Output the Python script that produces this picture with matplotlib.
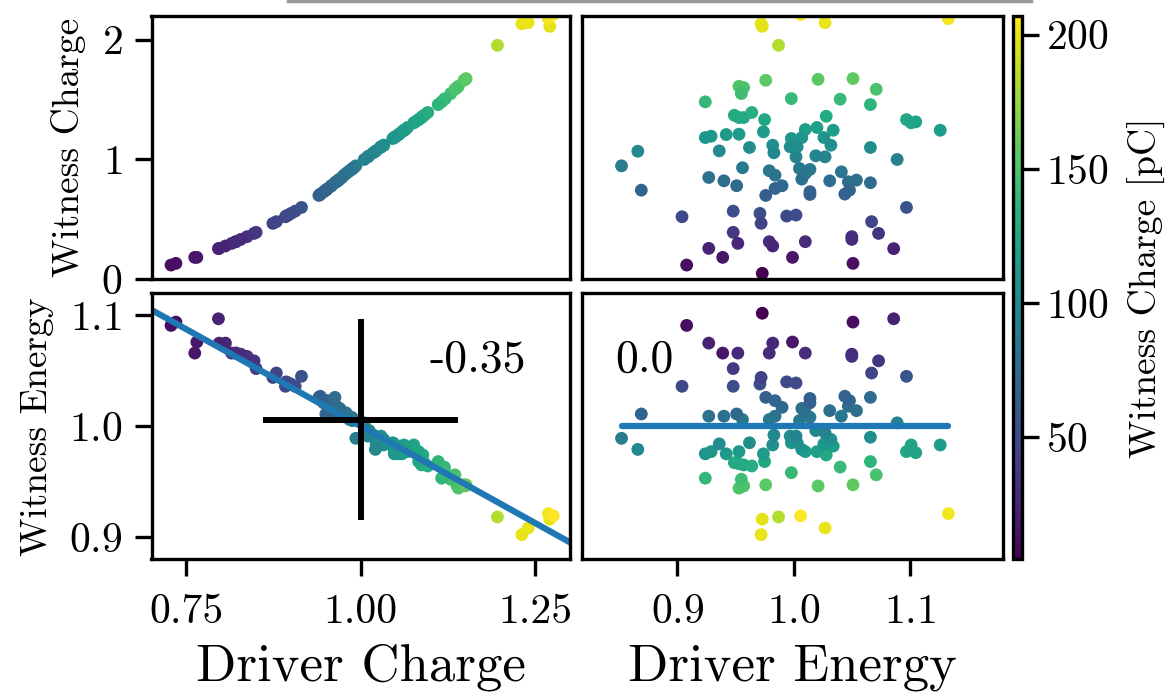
import matplotlib
matplotlib.use("Agg")
import matplotlib.pyplot as plt
from matplotlib.lines import Line2D
import numpy as np

# per-shot values (normalised)
driver_charge = [1.231, 1.271, 1.240, 1.269, 1.276, 1.196, 1.148, 1.140, 1.138, 1.129,
                 1.116, 1.121, 1.150, 1.151, 1.135, 1.120, 1.111, 1.091, 1.087, 1.087,
                 1.096, 1.083, 1.089, 1.083, 1.076, 1.078, 1.059, 1.048, 1.051, 1.054,
                 1.055, 1.064, 1.067, 1.062, 1.062, 1.046, 1.048, 1.048, 1.033, 1.033,
                 1.018, 1.022, 1.028, 1.029, 1.029, 1.010, 1.012, 1.010, 1.028, 1.021,
                 0.993, 1.005, 0.990, 0.984, 0.976, 0.988, 0.987, 0.979, 0.970, 0.982,
                 0.967, 0.973, 0.967, 0.958, 0.958, 0.953, 0.940, 0.965, 0.968, 0.950,
                 0.942, 0.963, 0.947, 0.942, 0.950, 0.915, 0.892, 0.906, 0.900, 0.874,
                 0.893, 0.896, 0.879, 0.847, 0.850, 0.815, 0.821, 0.806, 0.821, 0.837,
                 0.828, 0.796, 0.797, 0.762, 0.728, 0.690, 0.765, 0.735]
driver_energy = [0.972, 0.973, 1.027, 1.133, 1.006, 0.987, 0.976, 0.953, 0.957, 0.955,
                 0.924, 0.998, 1.021, 1.051, 1.071, 1.040, 1.066, 0.949, 0.953, 0.957,
                 0.964, 0.975, 1.028, 1.097, 1.101, 1.105, 0.974, 0.924, 0.929, 0.942,
                 0.953, 1.010, 1.020, 1.034, 1.126, 0.998, 1.007, 1.026, 1.032, 0.982,
                 0.983, 0.936, 0.962, 0.997, 1.003, 1.002, 1.019, 1.027, 1.066, 0.866,
                 0.852, 1.089, 0.956, 0.979, 0.984, 1.005, 1.014, 1.010, 1.007, 1.041,
                 1.031, 0.927, 0.940, 0.951, 0.990, 0.984, 0.976, 1.047, 1.054, 1.048,
                 1.044, 1.066, 1.014, 1.014, 0.869, 1.097, 0.904, 0.948, 0.971, 0.972,
                 0.994, 1.002, 1.067, 1.073, 0.948, 0.952, 0.979, 0.982, 1.010, 1.050,
                 1.050, 1.086, 0.927, 0.939, 0.908, 0.973, 0.999, 1.051]
witness_charge = [2.133, 2.111, 2.142, 2.175, 2.210, 1.953, 1.661, 1.611, 1.600, 1.550,
                  1.481, 1.508, 1.669, 1.675, 1.586, 1.503, 1.458, 1.369, 1.350, 1.350,
                  1.392, 1.333, 1.361, 1.333, 1.306, 1.314, 1.231, 1.183, 1.194, 1.208,
                  1.211, 1.250, 1.267, 1.244, 1.244, 1.175, 1.183, 1.183, 1.119, 1.119,
                  1.056, 1.072, 1.100, 1.106, 1.106, 1.022, 1.031, 1.022, 1.100, 1.069,
                  0.947, 1.000, 0.931, 0.906, 0.869, 0.925, 0.917, 0.883, 0.836, 0.897,
                  0.822, 0.850, 0.822, 0.781, 0.781, 0.758, 0.700, 0.814, 0.828, 0.744,
                  0.711, 0.806, 0.731, 0.708, 0.744, 0.600, 0.522, 0.569, 0.550, 0.467,
                  0.528, 0.536, 0.481, 0.383, 0.392, 0.300, 0.314, 0.278, 0.314, 0.356,
                  0.333, 0.256, 0.258, 0.183, 0.119, 0.050, 0.183, 0.133]
witness_energy = [0.902, 0.916, 0.908, 0.921, 0.919, 0.918, 0.947, 0.944, 0.946, 0.952,
                  0.953, 0.958, 0.946, 0.947, 0.956, 0.963, 0.968, 0.967, 0.966, 0.965,
                  0.964, 0.968, 0.974, 0.977, 0.983, 0.976, 0.975, 0.975, 0.977, 0.975,
                  0.977, 0.977, 0.977, 0.982, 0.983, 0.985, 0.979, 0.984, 0.988, 0.983,
                  0.992, 0.984, 0.985, 0.991, 0.985, 0.991, 0.996, 0.994, 0.990, 0.979,
                  0.989, 1.003, 1.006, 1.006, 1.009, 1.005, 1.008, 1.012, 1.016, 1.009,
                  1.014, 1.009, 1.009, 1.011, 1.017, 1.023, 1.026, 1.018, 1.014, 1.023,
                  1.027, 1.026, 1.021, 1.025, 1.011, 1.045, 1.036, 1.036, 1.038, 1.044,
                  1.040, 1.039, 1.048, 1.059, 1.052, 1.066, 1.066, 1.075, 1.066, 1.063,
                  1.065, 1.097, 1.075, 1.066, 1.091, 1.102, 1.076, 1.094]

MEAN_WITNESS_PC = 93.7   # pC per unit of normalised witness charge

# linear fits shown in the bottom row (slope, intercept at x=1)
fit_charge = (-0.35, 1.0)
fit_energy = (0.0, 1.0)

# mean / spread cross in the bottom-left panel
cross_center = (1.0, 1.006)
cross_err = (0.14, 0.091)

plt.rcParams['font.family'] = ['cmr10', 'DejaVu Serif']
plt.rcParams['mathtext.fontset'] = 'cm'
plt.rcParams['axes.unicode_minus'] = False
plt.rcParams['axes.formatter.use_mathtext'] = True
plt.rcParams['font.size'] = 27

W, H = 1169, 695
fig = plt.figure(figsize=(W / 100, H / 100), dpi=100)

def px_axes(x0, y0, x1, y1):
    return fig.add_axes([x0 / W, 1 - y1 / H, (x1 - x0) / W, (y1 - y0) / H])

ax_tl = px_axes(151.5, 15.7, 570, 279.3)
ax_tr = px_axes(582, 15.7, 1003, 279.3)
ax_bl = px_axes(151.5, 293.3, 570, 559)
ax_br = px_axes(582, 293.3, 1003, 559)
cax = px_axes(1013, 15.7, 1022, 559)

dq = np.array(driver_charge)
de = np.array(driver_energy)
wq = np.array(witness_charge)
we = np.array(witness_energy)
col = wq * MEAN_WITNESS_PC

kw = dict(c=col, cmap='viridis', s=85, linewidths=0)
sc = ax_tl.scatter(dq, wq, **kw)
ax_tr.scatter(de, wq, **kw)
ax_bl.scatter(dq, we, **kw)
ax_br.scatter(de, we, **kw)

for ax in (ax_tl, ax_bl):
    ax.set_xlim(0.70, 1.30)
for ax in (ax_tr, ax_br):
    ax.set_xlim(0.818, 1.18)
for ax in (ax_tl, ax_tr):
    ax.set_ylim(0, 2.2)
for ax in (ax_bl, ax_br):
    ax.set_ylim(0.88, 1.12)

# fit lines
xs = np.array([0.68, 1.32])
ax_bl.plot(xs, fit_charge[1] + fit_charge[0] * (xs - 1), color='#1f77b4', lw=4.5)
xs = np.array([de.min(), de.max()])
ax_br.plot(xs, fit_energy[1] + fit_energy[0] * (xs - 1), color='#1f77b4', lw=4.5,
           solid_capstyle='round')

ax_bl.errorbar(cross_center[0], cross_center[1], xerr=cross_err[0], yerr=cross_err[1],
               color='black', elinewidth=4.3, capsize=0, fmt='none')

ax_bl.text(0.665, 0.704, f'{fit_charge[0]:.2f}', transform=ax_bl.transAxes,
           fontsize=33, ha='left', va='baseline')
ax_br.text(0.078, 0.704, f'{fit_energy[0]:.1f}', transform=ax_br.transAxes,
           fontsize=33, ha='left', va='baseline')

ax_tl.set_yticks([0, 1, 2])
ax_bl.set_yticks([0.9, 1.0, 1.1])
ax_bl.set_xticks([0.75, 1.00, 1.25])
ax_bl.set_xticklabels(['0.75', '1.00', '1.25'])
ax_br.set_xticks([0.9, 1.0, 1.1])

ax_tl.set_ylabel('Witness Charge', labelpad=11)
ax_bl.set_ylabel('Witness Energy', labelpad=11)
ax_bl.set_xlabel('Driver Charge', fontsize=38, labelpad=9)
ax_br.set_xlabel('Driver Energy', fontsize=38, labelpad=9)

for ax in (ax_tl, ax_tr, ax_bl, ax_br):
    for sp in ax.spines.values():
        sp.set_linewidth(2.4)
    ax.tick_params(direction='out', length=12, width=2.4, labelsize=30)
    ax.tick_params(axis='x', pad=13)
    ax.tick_params(axis='y', pad=9)
ax_tl.tick_params(axis='x', bottom=False, labelbottom=False)
ax_tr.tick_params(bottom=False, labelbottom=False, left=False, labelleft=False)
ax_br.tick_params(axis='y', left=False, labelleft=False)

cb = fig.colorbar(sc, cax=cax)
cb.set_ticks([50, 100, 150, 200])
cb.set_label('Witness Charge [pC]', labelpad=14)
cb.outline.set_linewidth(2.4)
cax.tick_params(direction='out', length=12, width=2.4, pad=5, labelsize=30)

# grey rule left at the top edge of the crop
fig.add_artist(Line2D([288 / W, 1031 / W], [0.998, 0.998], color='#9a9a9a', lw=2.5))

fig.savefig('out.png', dpi=100)
